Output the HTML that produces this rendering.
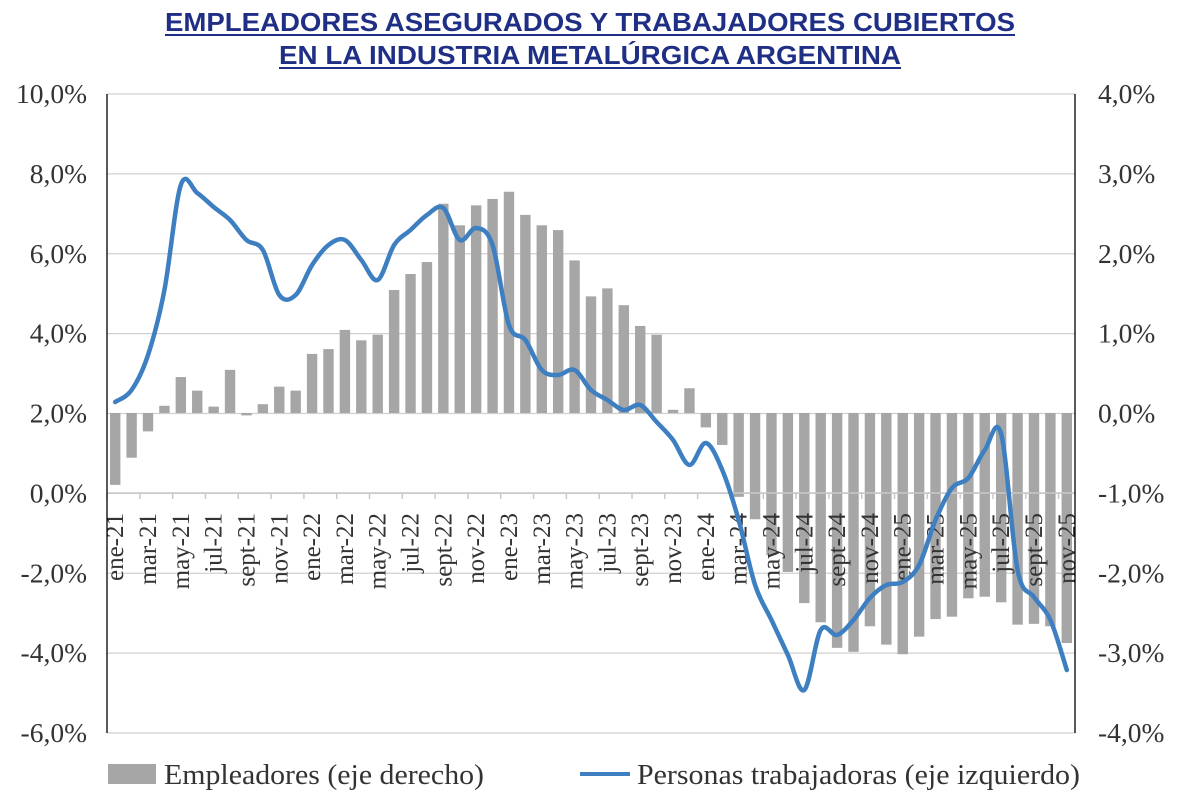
<!DOCTYPE html>
<html><head><meta charset="utf-8"><style>
html,body{margin:0;padding:0;background:#fff;width:1181px;height:809px;overflow:hidden}
svg{display:block}
</style></head><body>
<svg id="c" width="1181" height="809" xmlns="http://www.w3.org/2000/svg">
<text x="165" y="31" textLength="850" lengthAdjust="spacingAndGlyphs" font-family="Liberation Sans, sans-serif" font-weight="bold" font-size="26" fill="#1f2f86">EMPLEADORES ASEGURADOS Y TRABAJADORES CUBIERTOS</text>
<line x1="165" y1="35" x2="1015" y2="35" stroke="#1f2f86" stroke-width="2"/>
<text x="279" y="64" textLength="622" lengthAdjust="spacingAndGlyphs" font-family="Liberation Sans, sans-serif" font-weight="bold" font-size="26" fill="#1f2f86">EN LA INDUSTRIA METALÚRGICA ARGENTINA</text>
<line x1="279" y1="68" x2="901" y2="68" stroke="#1f2f86" stroke-width="2"/>
<g id="g"></g>
<rect x="108" y="764" width="48" height="20" fill="#a6a6a6"/>
<text x="164" y="784" textLength="320" lengthAdjust="spacingAndGlyphs" font-family="Liberation Serif, serif" font-size="28" fill="#333">Empleadores (eje derecho)</text>
<line x1="580" y1="774" x2="630" y2="774" stroke="#3d7fc1" stroke-width="4"/>
<text x="637" y="784" textLength="443" lengthAdjust="spacingAndGlyphs" font-family="Liberation Serif, serif" font-size="28" fill="#333">Personas trabajadoras (eje izquierdo)</text>
</svg>
<script>
var L=107,R=1075,T=94,B=733,N=59,w=(R-L)/N;
var bars=[-0.9,-0.56,-0.23,0.09,0.45,0.28,0.08,0.54,-0.03,0.11,0.33,0.28,0.74,0.8,1.04,0.91,0.98,1.54,1.74,1.89,2.62,2.35,2.6,2.68,2.77,2.48,2.35,2.29,1.91,1.46,1.56,1.35,1.09,0.98,0.04,0.31,-0.18,-0.4,-1.05,-1.33,-1.78,-1.99,-2.38,-2.62,-2.94,-2.99,-2.67,-2.9,-3.02,-2.8,-2.58,-2.55,-2.32,-2.3,-2.37,-2.65,-2.64,-2.67,-2.88];
var ly=[402,390,355,290,185,193,207,220,240,250,295,295,265,245,240,260,280,245,230,215,208,240,228,245,325,340,370,375,370,390,400,410,405,422,440,465,443,470,520,585,620,655,690,630,635,620,598,585,582,565,520,488,478,450,434,570,597,620,670];
var s='';
for(var i=0;i<=8;i++){var y=T+i*(B-T)/8;s+='<line x1="'+L+'" y1="'+y+'" x2="'+R+'" y2="'+y+'" stroke="#d0d0d0" stroke-width="1.3"/>';
var lv=(10-2*i).toFixed(1).replace('.',',')+'%';var rv=(4-i).toFixed(1).replace('.',',')+'%';
s+='<text x="87" y="'+(y+9)+'" text-anchor="end" font-family="Liberation Serif, serif" font-size="27.5" fill="#333">'+lv+'</text>';
s+='<text x="1098" y="'+(y+9)+'" font-family="Liberation Serif, serif" font-size="27.5" fill="#333">'+rv+'</text>';}
var z=413,k=(B-T)/8;
for(var i=0;i<N;i++){var v=bars[i],h=Math.abs(v)*k,cx=L+w*(i+0.5);s+='<rect x="'+(cx-5.2)+'" y="'+(v>0?z-h:z)+'" width="10.4" height="'+h+'" fill="#a6a6a6"/>';}
var ax=493;
s+='<line x1="'+L+'" y1="'+ax+'" x2="'+R+'" y2="'+ax+'" stroke="#c8c8c8" stroke-width="1.5"/>';
for(var i=0;i<=N;i+=2){var x=L+w*i;s+='<line x1="'+x+'" y1="'+ax+'" x2="'+x+'" y2="'+(ax+6)+'" stroke="#c8c8c8" stroke-width="1.5"/>';}
var m=['ene','feb','mar','abr','may','jun','jul','ago','sept','oct','nov','dic'];
for(var i=0;i<N;i+=2){var cx=L+w*(i+0.5)+8;var lab=m[i%12]+'-'+(21+Math.floor(i/12));
s+='<text transform="translate('+cx+',513) rotate(-90)" text-anchor="end" font-family="Liberation Serif, serif" font-size="25" fill="#333">'+lab+'</text>';}
s+='<line x1="'+L+'" y1="'+T+'" x2="'+L+'" y2="'+B+'" stroke="#000" stroke-width="1.3"/>';
s+='<line x1="'+R+'" y1="'+T+'" x2="'+R+'" y2="'+B+'" stroke="#000" stroke-width="1.3"/>';
var p=[];for(var i=0;i<N;i++)p.push([L+w*(i+0.5),ly[i]]);
var d='M'+p[0][0]+','+p[0][1];
for(var i=0;i<N-1;i++){var p0=p[Math.max(0,i-1)],p1=p[i],p2=p[i+1],p3=p[Math.min(N-1,i+2)],t=6;
d+=' C'+(p1[0]+(p2[0]-p0[0])/t)+','+(p1[1]+(p2[1]-p0[1])/t)+' '+(p2[0]-(p3[0]-p1[0])/t)+','+(p2[1]-(p3[1]-p1[1])/t)+' '+p2[0]+','+p2[1];}
s+='<path d="'+d+'" fill="none" stroke="#3d7fc1" stroke-width="4.5" stroke-linejoin="round" stroke-linecap="round"/>';
document.getElementById('g').innerHTML=s;
</script>
</body></html>
